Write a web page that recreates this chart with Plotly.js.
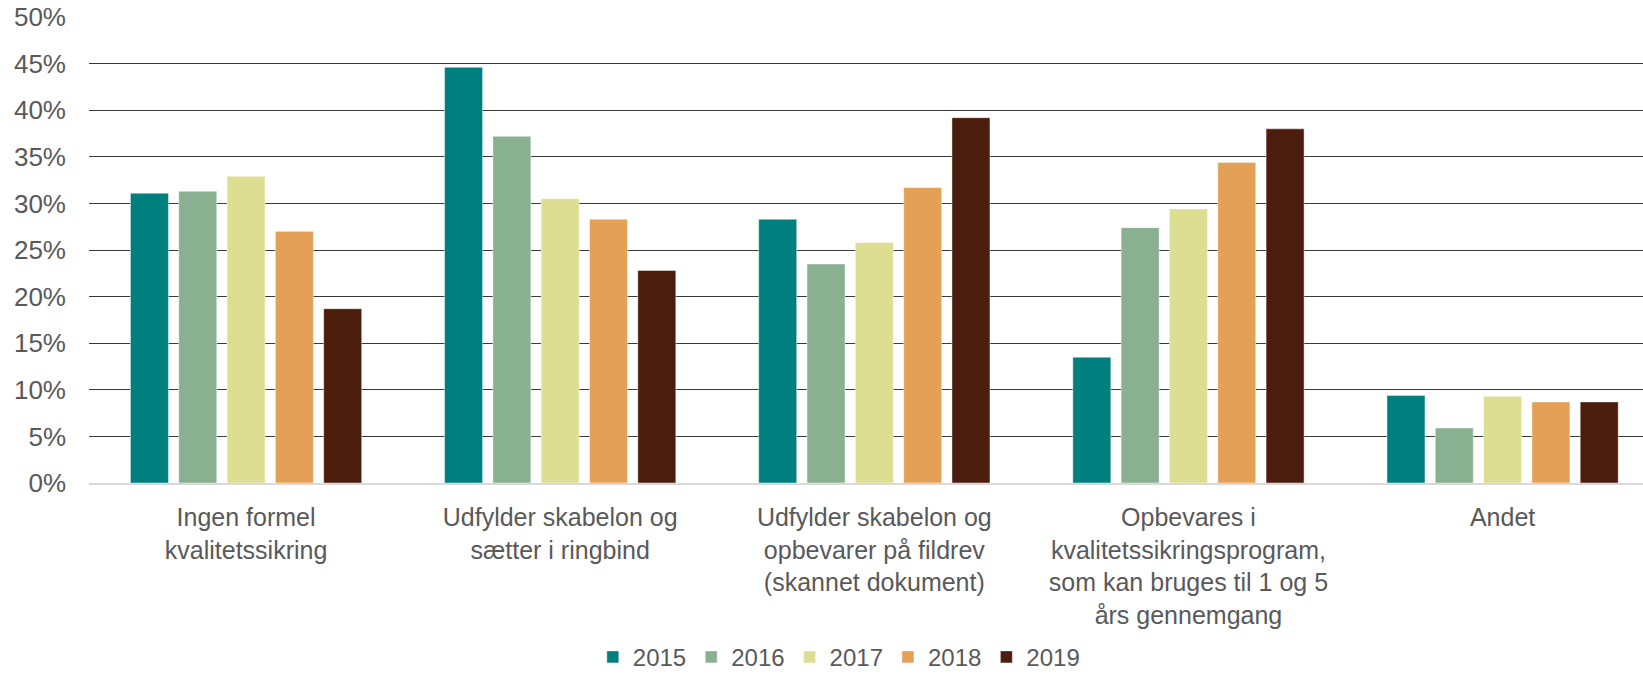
<!DOCTYPE html>
<html>
<head>
<meta charset="utf-8">
<script src="https://cdn.plot.ly/plotly-3.0.1.min.js"></script>
<style>html,body{margin:0;padding:0;background:#fff;}#chart{width:1643px;height:674px;}</style>
</head>
<body>
<div id="chart"></div>
<script>
const categories = [
  "Ingen formel<br>kvalitetssikring",
  "Udfylder skabelon og<br>sætter i ringbind",
  "Udfylder skabelon og<br>opbevarer på fildrev<br>(skannet dokument)",
  "Opbevares i<br>kvalitetssikringsprogram,<br>som kan bruges til 1 og 5<br>års gennemgang",
  "Andet"
];
const years = ["2015", "2016", "2017", "2018", "2019"];
const v2015 = [0.311, 0.446, 0.283, 0.135, 0.094];
const v2016 = [0.313, 0.372, 0.235, 0.274, 0.059];
const v2017 = [0.329, 0.305, 0.258, 0.294, 0.093];
const v2018 = [0.270, 0.283, 0.317, 0.344, 0.087];
const v2019 = [0.187, 0.228, 0.392, 0.380, 0.087];
const colors = ["#007F7F", "#8AB092", "#DEDE93", "#E4A056", "#4A1D0C"];
const seriesValues = [v2015, v2016, v2017, v2018, v2019];

const traces = years.map((y, i) => ({
  type: "bar",
  name: y,
  x: categories,
  y: seriesValues[i],
  marker: { color: colors[i], line: { color: "rgba(255,255,255,0.45)", width: 1 } },
  hoverinfo: "y+name"
}));

const layout = {
  width: 1643,
  height: 674,
  margin: { l: 89, r: 0, t: 17, b: 191, autoexpand: false },
  paper_bgcolor: "#ffffff",
  plot_bgcolor: "#ffffff",
  font: { family: "Liberation Sans, Arial, sans-serif", color: "#595959", size: 25 },
  barmode: "group",
  bargap: 0.231,
  bargroupgap: 0.213,
  showlegend: true,
  legend: {
    orientation: "h",
    x: 0.4825, xanchor: "center",
    y: -0.374, yanchor: "middle",
    font: { size: 24, color: "#595959" },
    itemwidth: 30,
    traceorder: "normal"
  },
  xaxis: {
    type: "category",
    range: [-0.5, 4.447],
    automargin: false,
    showgrid: false,
    zeroline: false,
    showline: true,
    linecolor: "#D9D9D9",
    linewidth: 2,
    ticks: "",
    tickangle: 0,
    ticklabelstandoff: 11,
    tickfont: { size: 25, color: "#595959" },
    fixedrange: true
  },
  yaxis: {
    range: [0, 0.5],
    dtick: 0.05,
    tick0: 0,
    tickformat: ".0%",
    automargin: false,
    showgrid: true,
    gridcolor: "#3a3a3a",
    gridwidth: 1,
    zeroline: false,
    showline: false,
    ticks: "",
    ticklabelstandoff: 22,
    tickfont: { size: 26, color: "#595959" },
    fixedrange: true
  }
};

Plotly.newPlot("chart", traces, layout, { displayModeBar: false, staticPlot: true });
</script>
</body>
</html>
